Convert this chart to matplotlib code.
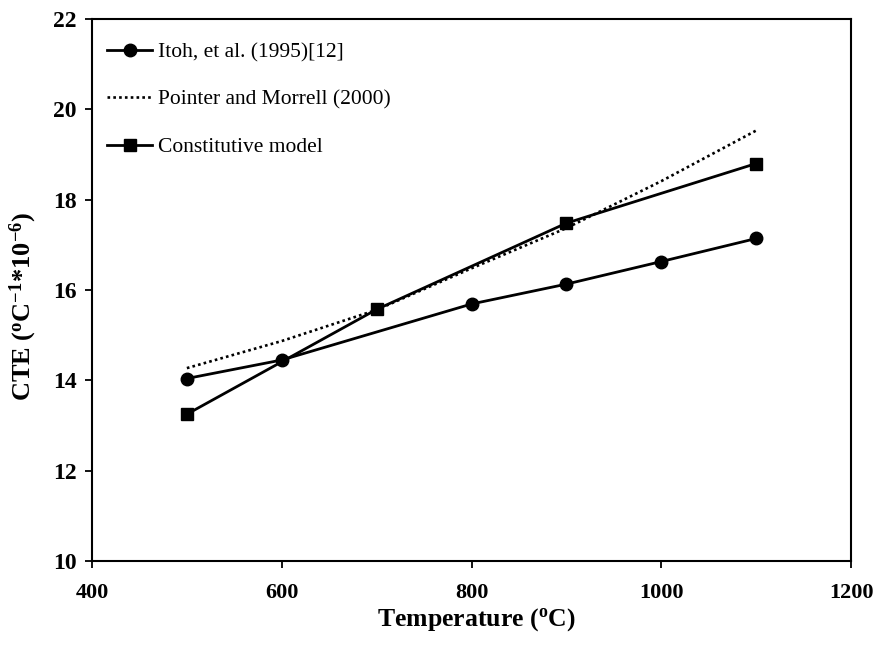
import matplotlib.pyplot as plt

plt.rcParams['font.family'] = ['Liberation Serif', 'DejaVu Serif']
plt.rcParams['mathtext.fontset'] = 'custom'
plt.rcParams['mathtext.rm'] = 'Liberation Serif:bold'
plt.rcParams['mathtext.bf'] = 'Liberation Serif:bold'
plt.rcParams['mathtext.default'] = 'bf'

# CTE measurements vs temperature
itoh_t = [500, 600, 800, 900, 1000, 1100]
itoh_cte = [14.04, 14.45, 15.69, 16.13, 16.63, 17.14]

pointer_t = [500, 600, 700, 800, 900, 1000, 1100]
pointer_cte = [14.27, 14.87, 15.56, 16.48, 17.37, 18.41, 19.53]

model_t = [500, 700, 900, 1100]
model_cte = [13.25, 15.57, 17.48, 18.80]

fig = plt.figure(figsize=(8.82, 6.46), dpi=100)
ax = fig.add_axes([0.1043, 0.1316, 0.8606, 0.8390])

ax.plot(itoh_t, itoh_cte, color='black', lw=2.0, marker='o', ms=9,
        label='Itoh, et al. (1995)[12]')
ax.plot(pointer_t, pointer_cte, color='black', lw=1.9, ls=(0, (1, 1.2)),
        label='Pointer and Morrell (2000)')
ax.plot(model_t, model_cte, color='black', lw=2.0, marker='s', ms=9,
        label='Constitutive model')

ax.set_xlim(400, 1200)
ax.set_ylim(10, 22)
ax.set_xticks(range(400, 1201, 200))
ax.set_yticks(range(10, 23, 2))
ax.tick_params(direction='out', length=5, width=1.3, labelsize=17)
ax.tick_params(axis='x', pad=11, labelsize=16)
ax.tick_params(axis='y', pad=6)
for lbl in ax.get_xticklabels() + ax.get_yticklabels():
    lbl.set_fontweight('bold')
for s in ax.spines.values():
    s.set_linewidth(1.5)

ax.set_xlabel(r'Temperature ($^{o}$C)', fontsize=18.5, fontweight='bold')
ax.set_ylabel(r'CTE ($^{o}$C$^{-1}$*10$^{-6}$)', fontsize=19, fontweight='bold')
ax.xaxis.set_label_coords(0.506, -0.083)
ax.yaxis.set_label_coords(-0.07, 0.47)

ax.legend(loc='upper left', frameon=False, fontsize=15.5, handlelength=2.1,
          handletextpad=0.25, labelspacing=1.27, borderaxespad=0.3,
          bbox_to_anchor=(0.0, 0.985))

fig.savefig('out.png', dpi=100)
